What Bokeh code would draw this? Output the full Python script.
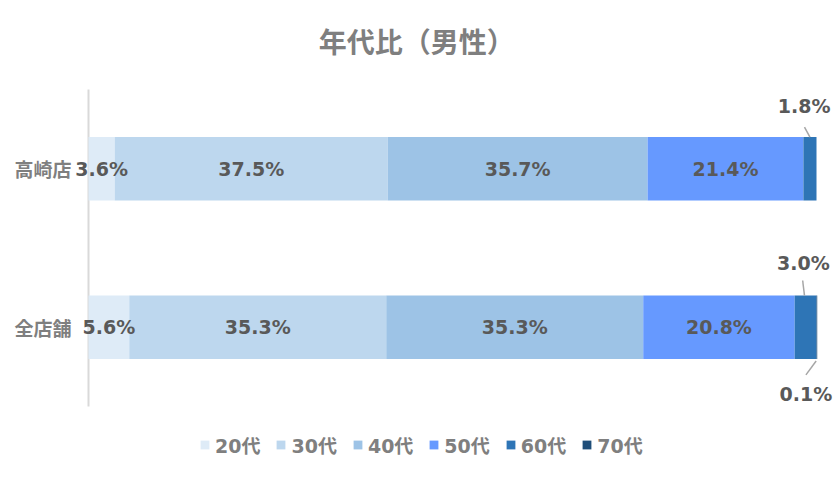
from bokeh.plotting import figure
from bokeh.models import ColumnDataSource, Legend, LegendItem, FixedTicker
from bokeh.embed import file_html
from bokeh.resources import INLINE
from bokeh.core.properties import value

title_text = "年代比（男性）"
stores = ["高崎店", "全店舗"]
ages = ["20代", "30代", "40代", "50代", "60代", "70代"]
takasaki = [3.6, 37.5, 35.7, 21.4, 1.8, 0.0]
zentenpo = [5.6, 35.3, 35.3, 20.8, 3.0, 0.1]
colors = ["#DEEBF7", "#BDD7EE", "#9DC3E6", "#6699FF", "#2E75B6", "#1F4E79"]

NUM_FONT = "DejaVu Sans, Noto Sans CJK JP"
JP_FONT = "Noto Sans CJK JP"

ypos = {"高崎店": 1, "全店舗": 0}
series = {"高崎店": takasaki, "全店舗": zentenpo}

p = figure(width=839, height=478, output_backend="svg", toolbar_location=None,
           x_range=(-2.198, 103.159), y_range=(-0.954, 2.0615), x_axis_location=None,
           min_border_left=72, min_border_right=0, min_border_top=0,
           min_border_bottom=0, outline_line_color=None)
p.grid.visible = False
p.background_fill_color = "white"

# chart title
p.text(x=[45.1], y=[1.809], text=[title_text], text_align="center", text_baseline="middle",
       text_font=value(JP_FONT), text_font_size="28px", text_font_style="bold",
       text_color="#7F7F7F")

# value axis line
p.segment(x0=[0], y0=[-0.5], x1=[0], y1=[1.5], line_color="#D9D9D9", line_width=2)

# stacked bars
renderers = []
for i, age in enumerate(ages):
    left, right, ys = [], [], []
    for s in stores:
        vals = series[s]
        l = sum(vals[:i])
        left.append(l)
        right.append(l + vals[i])
        ys.append(ypos[s])
    src = ColumnDataSource(dict(y=ys, left=left, right=right))
    r = p.hbar(y="y", left="left", right="right", height=0.4, source=src,
               fill_color=colors[i], line_color=None)
    renderers.append(r)

# data labels
in_x, in_y, in_t = [], [], []
out_x, out_y, out_t = [], [], []
seg = []
for s in stores:
    vals = series[s]
    for i, v in enumerate(vals):
        if v <= 0:
            continue
        l = sum(vals[:i])
        mid = l + v / 2
        txt = f"{v:.1f}%"
        if v >= 3.5:
            in_x.append(mid); in_y.append(ypos[s]); in_t.append(txt)
        elif s == "高崎店":
            out_x.append(mid - 0.8); out_y.append(ypos[s] + 0.2 + 0.196); out_t.append(txt)
            seg.append((mid - 0.75, ypos[s] + 0.2 + 0.063, mid, ypos[s] + 0.2))
        elif i == 4:
            out_x.append(mid - 0.3); out_y.append(ypos[s] + 0.2 + 0.205); out_t.append(txt)
            seg.append((mid - 0.4, ypos[s] + 0.2 + 0.095, mid - 0.15, ypos[s] + 0.2))
        else:
            out_x.append(mid - 1.5); out_y.append(ypos[s] - 0.2 - 0.222); out_t.append(txt)
            seg.append((mid - 0.1, ypos[s] - 0.2 - 0.013, mid - 1.5, ypos[s] - 0.2 - 0.1))

p.text(x=in_x, y=in_y, text=in_t, text_align="center", text_baseline="middle",
       text_font=value(NUM_FONT), text_font_size="19px", text_font_style="bold",
       text_color="#595959")
p.text(x=out_x, y=out_y, text=out_t, text_align="center", text_baseline="middle",
       text_font=value(NUM_FONT), text_font_size="19px", text_font_style="bold",
       text_color="#595959")
p.segment(x0=[s[0] for s in seg], y0=[s[1] for s in seg],
          x1=[s[2] for s in seg], y1=[s[3] for s in seg],
          line_color="#A6A6A6", line_width=1.5)

# category axis
ax = p.yaxis[0]
ax.ticker = FixedTicker(ticks=[0, 1])
ax.major_label_overrides = {0: "全店舗", 1: "高崎店"}
ax.major_tick_line_color = None
ax.minor_tick_line_color = None
ax.axis_line_color = None
ax.major_label_text_font = JP_FONT
ax.major_label_text_font_size = "19px"
ax.major_label_text_font_style = "bold"
ax.major_label_text_color = "#7F7F7F"
ax.major_label_standoff = -5

legend = Legend(items=[LegendItem(label=a, renderers=[r]) for a, r in zip(ages, renderers)],
                orientation="horizontal", location=(127, 20),
                glyph_width=11, glyph_height=11, label_standoff=5, spacing=15,
                padding=0, margin=0, border_line_color=None, background_fill_alpha=0,
                label_text_font=NUM_FONT, label_text_font_size="19px",
                label_text_font_style="bold", label_text_color="#7F7F7F",
                label_height=20)
p.add_layout(legend, "center")

open("out.html", "w").write(file_html(p, INLINE))
